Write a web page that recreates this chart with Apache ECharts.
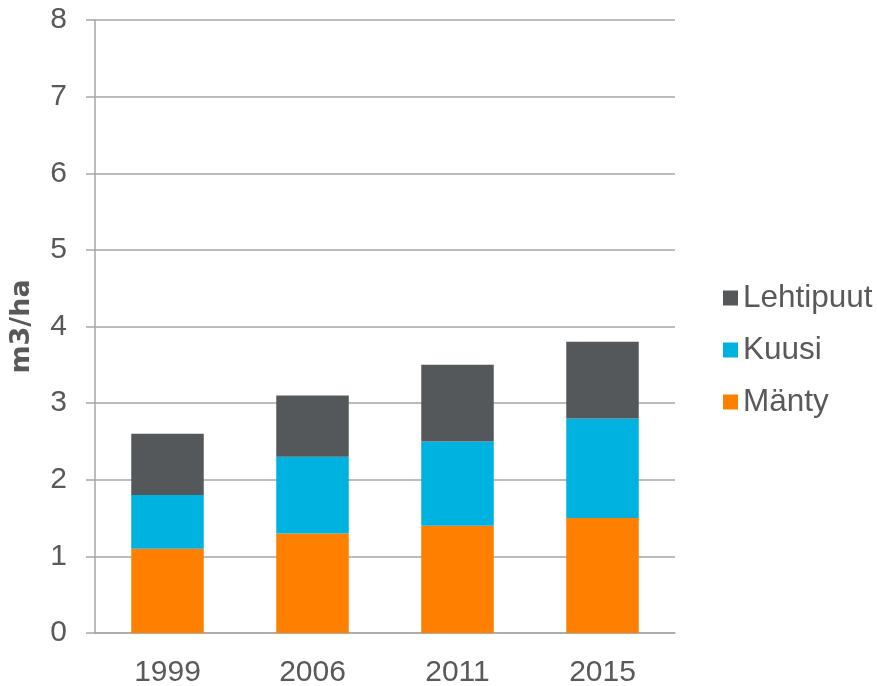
<!DOCTYPE html>
<html>
<head>
<meta charset="utf-8">
<script src="https://cdn.jsdelivr.net/npm/echarts@6/dist/echarts.min.js"></script>
<style>
  html, body { margin: 0; padding: 0; background: #fff; }
  #chart { width: 877px; height: 686px; }
</style>
</head>
<body>
<div id="chart"></div>
<script>
const years = ['1999', '2006', '2011', '2015']
const manty = [1.1, 1.3, 1.4, 1.5]
const kuusi = [0.7, 1.0, 1.1, 1.3]
const lehtipuut = [0.8, 0.8, 1.0, 1.0]
const yTicks = [0, 1, 2, 3, 4, 5, 6, 7, 8]

const textColor = '#595959'
const lineColor = '#a6a6a6'
const font = 'Liberation Sans, Arial, sans-serif'

const chart = echarts.init(document.getElementById('chart'))

const barSeries = (name, data, color) => ({
  name,
  type: 'bar',
  stack: 'total',
  data,
  barWidth: '50%',
  itemStyle: { color },
})

chart.setOption({
  animation: false,
  textStyle: { fontFamily: font },
  grid: { left: 95, right: 202, top: 20, bottom: 53, containLabel: false, outerBoundsMode: 'none' },
  legend: {
    orient: 'vertical',
    left: 718,
    top: 277,
    itemWidth: 15,
    itemHeight: 15,
    itemGap: 20,
    icon: 'rect',
    data: ['Lehtipuut', 'Kuusi', 'Mänty'],
    textStyle: { color: textColor, fontSize: 31.5, lineHeight: 30, fontFamily: font },
  },
  xAxis: {
    type: 'category',
    data: years,
    axisLine: { lineStyle: { color: lineColor, width: 1.5 } },
    axisTick: { show: false },
    axisLabel: { color: textColor, fontSize: 30, margin: 25, fontFamily: font },
  },
  yAxis: {
    type: 'value',
    min: yTicks[0],
    max: yTicks[yTicks.length - 1],
    interval: 1,
    name: 'm3/ha',
    nameLocation: 'middle',
    nameGap: 60,
    nameTextStyle: { color: textColor, fontSize: 27, fontWeight: 'bold', fontFamily: 'DejaVu Sans, sans-serif' },
    axisLine: { show: true, lineStyle: { color: lineColor, width: 1.5 } },
    axisTick: { show: true, length: 9, lineStyle: { color: lineColor, width: 1.5 } },
    axisLabel: { color: textColor, fontSize: 30, margin: 28, fontFamily: font },
    splitLine: { lineStyle: { color: lineColor, width: 1.5 } },
  },
  series: [
    barSeries('Mänty', manty, '#ff8000'),
    barSeries('Kuusi', kuusi, '#00b2e0'),
    barSeries('Lehtipuut', lehtipuut, '#54585a'),
  ],
})
</script>
</body>
</html>
